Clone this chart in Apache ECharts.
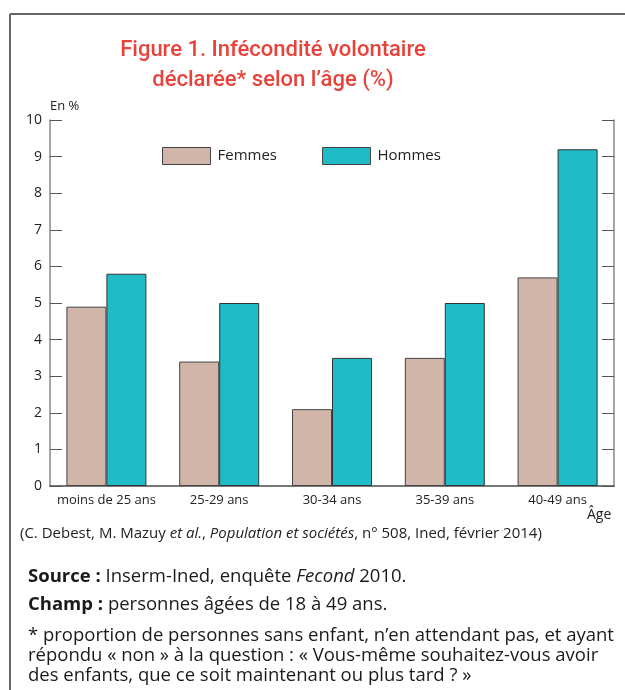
<!DOCTYPE html>
<html>
<head>
<meta charset="utf-8">
<script src="https://cdn.jsdelivr.net/npm/echarts@6/dist/echarts.min.js"></script>
<style>
  html, body { margin: 0; padding: 0; background: #fff; }
  #chart { width: 625px; height: 690px; }
</style>
</head>
<body>
<div id="chart"></div>
<script>
// données
var categories = ['moins de 25 ans', '25-29 ans', '30-34 ans', '35-39 ans', '40-49 ans'];
var femmes = [4.9, 3.4, 2.1, 3.5, 5.7];
var hommes = [5.8, 5.0, 3.5, 5.0, 9.2];
var yTicks = [0, 1, 2, 3, 4, 5, 6, 7, 8, 9, 10];

var body = 'Open Sans';
var chart = echarts.init(document.getElementById('chart'));

var option = {
  animation: false,
  title: {
    text: 'Figure 1. Infécondité volontaire\ndéclarée* selon l’âge (%)',
    left: 268,
    top: 30,
    textAlign: 'center',
    textStyle: {
      color: '#e8433b',
      fontFamily: 'Roboto',
      fontWeight: 500,
      fontSize: 22,
      lineHeight: 30
    }
  },
  legend: {
    left: 157,
    top: 142,
    icon: 'rect',
    itemWidth: 48,
    itemHeight: 17,
    itemGap: 45,
    itemStyle: { borderColor: '#444', borderWidth: 1 },
    textStyle: { fontFamily: body, fontSize: 15, color: '#222', padding: [0, 0, 0, 2] },
    data: ['Femmes', 'Hommes']
  },
  grid: { left: 50, right: 11, top: 120, bottom: 204 },
  xAxis: [{
    type: 'category',
    data: categories,
    axisLine: { lineStyle: { color: '#111', width: 1.5 } },
    axisTick: { inside: true, length: 8, lineStyle: { color: '#333' } },
    axisLabel: { interval: 0, fontFamily: body, fontSize: 13, color: '#222', margin: 8 }
  }, {
    type: 'category',
    position: 'top',
    data: categories,
    axisLine: { lineStyle: { color: '#888', width: 1.5 } },
    axisTick: { inside: true, length: 8, lineStyle: { color: '#333' } },
    axisLabel: { show: false }
  }],
  yAxis: [{
    type: 'value',
    min: 0,
    max: 10,
    interval: 1,
    axisLine: { show: true, lineStyle: { color: '#888', width: 1.5 } },
    axisTick: { show: true, inside: true, length: 12, lineStyle: { color: '#555' } },
    splitLine: { show: false },
    axisLabel: {
      fontFamily: body, fontSize: 14, color: '#222', margin: 8,
      formatter: function (v) { return yTicks.indexOf(v) >= 0 ? String(v) : ''; }
    }
  }, {
    type: 'value',
    position: 'right',
    min: 0,
    max: 10,
    interval: 1,
    axisLine: { show: true, lineStyle: { color: '#888', width: 1.5 } },
    axisTick: { show: true, inside: true, length: 12, lineStyle: { color: '#555' } },
    splitLine: { show: false },
    axisLabel: { show: false }
  }],
  series: [{
    name: 'Femmes',
    type: 'bar',
    data: femmes,
    barWidth: 40,
    barGap: '0%',
    itemStyle: { color: '#d1b5a8', borderColor: '#444', borderWidth: 1 }
  }, {
    name: 'Hommes',
    type: 'bar',
    data: hommes,
    barWidth: 40,
    barGap: '0%',
    itemStyle: { color: '#1fbcc8', borderColor: '#333', borderWidth: 1 }
  }],
  graphic: [
    // cadre
    { type: 'line', shape: { x1: 10, y1: 14, x2: 625, y2: 14 }, style: { stroke: '#666', lineWidth: 2 } },
    { type: 'line', shape: { x1: 10, y1: 14, x2: 10, y2: 690 }, style: { stroke: '#666', lineWidth: 2 } },
    { type: 'text', left: 50, top: 100, style: { text: 'En %', font: '13px "' + body + '"', fill: '#222' } },
    { type: 'text', left: 587, top: 508, style: { text: 'Âge', font: '14px "' + body + '"', fill: '#222' } },
    {
      type: 'text', left: 20, top: 526,
      style: {
        text: '(C. Debest, M. Mazuy {i|et al.}, {i|Population et sociétés}, n° 508, Ined, février 2014)',
        font: '15px "' + body + '"', fill: '#222',
        rich: { i: { fontStyle: 'italic', fontFamily: body, fontSize: 15, fill: '#222' } }
      }
    },
    {
      type: 'text', left: 28, top: 567,
      style: {
        text: '{b|Source :} Inserm-Ined, enquête {i|Fecond} 2010.',
        font: '18.5px "' + body + '"', fill: '#1a1a1a',
        rich: {
          b: { fontWeight: 'bold', fontFamily: body, fontSize: 18.5, fill: '#1a1a1a' },
          i: { fontStyle: 'italic', fontFamily: body, fontSize: 18.5, fill: '#1a1a1a' }
        }
      }
    },
    {
      type: 'text', left: 28, top: 595,
      style: {
        text: '{b|Champ :} personnes âgées de 18 à 49 ans.',
        font: '18.5px "' + body + '"', fill: '#1a1a1a',
        rich: { b: { fontWeight: 'bold', fontFamily: body, fontSize: 18.5, fill: '#1a1a1a' } }
      }
    },
    {
      type: 'text', left: 28, top: 626,
      style: {
        text: '* proportion de personnes sans enfant, n’en attendant pas, et ayant\nrépondu « non » à la question : « Vous-même souhaitez-vous avoir\ndes enfants, que ce soit maintenant ou plus tard ? »',
        font: '18.5px "' + body + '"', fill: '#1a1a1a', lineHeight: 20
      }
    }
  ]
};

chart.setOption(option);
</script>
</body>
</html>
